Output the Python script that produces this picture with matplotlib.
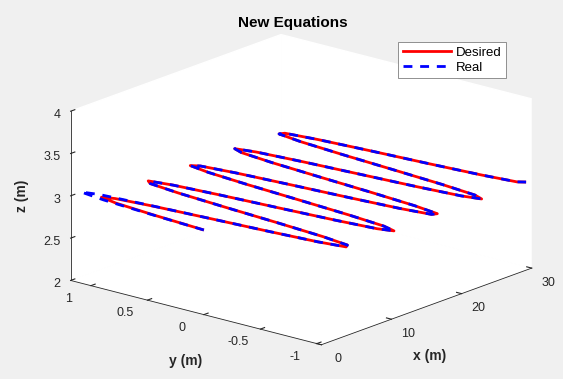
import matplotlib
matplotlib.use("Agg")
import matplotlib.pyplot as plt
from matplotlib.lines import Line2D
from matplotlib.transforms import ScaledTranslation

plt.rcParams['font.family'] = ['Liberation Sans', 'DejaVu Sans']
plt.rcParams['axes.unicode_minus'] = False

# ---- data ----
x_pos = [0.0, 0.5, 1.0, 1.5, 2.0, 2.5, 3.0, 3.5, 4.0, 4.5, 5.0, 5.5, 6.0, 6.5, 7.0, 7.5,
         8.0, 8.5, 9.0, 9.5, 10.0, 10.5, 11.0, 11.5, 12.0, 12.5, 13.0, 13.5, 14.0, 14.5,
         15.0, 15.5, 16.0, 16.5, 17.0, 17.5, 18.0, 18.5, 19.0, 19.5, 20.0, 20.5, 21.0,
         21.5, 22.0, 22.5, 23.0, 23.5, 24.0, 24.5, 25.0, 25.5, 26.0, 26.5, 27.0, 27.5,
         28.0, 28.5, 29.0, 29.5, 30.0]
y_desired = [0.00, 0.48, 0.84, 1.00, 0.91, 0.60, 0.14, -0.35, -0.76, -0.98, -0.96, -0.71,
             -0.28, 0.22, 0.66, 0.94, 0.99, 0.80, 0.41, -0.08, -0.54, -0.88, -1.00, -0.88,
             -0.54, -0.07, 0.42, 0.80, 0.99, 0.93, 0.65, 0.20, -0.29, -0.71, -0.96, -0.98,
             -0.75, -0.34, 0.15, 0.61, 0.91, 1.00, 0.84, 0.47, -0.01, -0.49, -0.85, -1.00,
             -0.91, -0.59, -0.13, 0.36, 0.76, 0.98, 0.96, 0.70, 0.27, -0.23, -0.66, -0.94,
             -0.99]
y_real = [0.00, 0.52, 0.95, 1.18, 1.05, 0.62, 0.14, -0.35, -0.76, -0.98, -0.96, -0.71,
          -0.28, 0.22, 0.66, 0.94, 0.99, 0.80, 0.41, -0.08, -0.54, -0.88, -1.00, -0.88,
          -0.54, -0.07, 0.42, 0.80, 0.99, 0.93, 0.65, 0.20, -0.29, -0.71, -0.96, -0.98,
          -0.75, -0.34, 0.15, 0.61, 0.91, 1.00, 0.84, 0.47, -0.01, -0.49, -0.85, -1.00,
          -0.91, -0.59, -0.13, 0.36, 0.76, 0.98, 0.96, 0.70, 0.27, -0.23, -0.66, -0.94,
          -0.99]
z_height = 3.0
z_desired = [z_height] * len(x_pos)
z_real = [z_height] * len(x_pos)

x_ticks = [0, 10, 20, 30]
y_ticks = [-1, -0.5, 0, 0.5, 1]
z_ticks = [2, 2.5, 3, 3.5, 4]
x_tick_labels = ['0', '10', '20', '30']
y_tick_labels = ['-1', '-0.5', '0', '0.5', '1']
z_tick_labels = ['2', '2.5', '3', '3.5', '4']
series_names = ['Desired', 'Real']

# ---- figure ----
BG = '#F0F0F0'
DARK = '#262626'
LW = 2.0
DASH = (3.2, 2.8)
fig = plt.figure(figsize=(5.63, 3.79), dpi=100, facecolor=BG)
# an enlarged axes rectangle (instead of a zoom factor) so nothing gets clipped
ax = fig.add_axes([-0.1116, -0.1526, 1.27, 1.27], projection='3d', proj_type='ortho')
ax.set_facecolor((0, 0, 0, 0))
ax.view_init(elev=17.8, azim=-140)
ax.set_box_aspect((1, 1, 0.543), zoom=1.0)
ax.computed_zorder = False

ax.plot(x_pos, y_desired, z_desired, color='#FF0000', lw=LW, solid_capstyle='butt', zorder=2)
ax.plot(x_pos, y_real, z_real, color='#0000FF', lw=LW, dashes=DASH, zorder=3)

ax.set_xlim(0, 30, view_margin=0)
ax.set_ylim(-1.04, 1.18, view_margin=0)
ax.set_zlim(2, 4, view_margin=0)

ax.set_xticks(x_ticks)
ax.set_xticklabels(x_tick_labels)
ax.set_yticks(y_ticks)
ax.set_yticklabels(y_tick_labels)
ax.set_zticks(z_ticks)
ax.set_zticklabels(z_tick_labels, ha='right')
ax.grid(False)

for axis in (ax.xaxis, ax.yaxis, ax.zaxis):
    axis.set_pane_color((1, 1, 1, 1))
    axis.pane.set_edgecolor('white')
    axis.line.set_color(DARK)
    axis.line.set_linewidth(0.6)
    axis._axinfo['tick']['inward_factor'] = 0.0
    axis._axinfo['tick']['outward_factor'] = 0.25
    axis._axinfo['tick']['color'] = DARK
ax.tick_params(axis='both', labelsize=9, colors=DARK, pad=-4.5)


def nudge_tick_labels(axis, dx_px, dy_px):
    """Shift tick labels of a 3D axis by a fixed screen offset (pixels)."""
    original = axis.get_major_ticks
    offset = ScaledTranslation(dx_px / fig.dpi, dy_px / fig.dpi, fig.dpi_scale_trans)

    def get_major_ticks(numticks=None):
        ticks = original(numticks)
        for t in ticks:
            t.label1.set_transform(ax.transData + offset)
        return ticks
    axis.get_major_ticks = get_major_ticks


nudge_tick_labels(ax.xaxis, 12, -4)
nudge_tick_labels(ax.yaxis, -18, -2.5)
nudge_tick_labels(ax.zaxis, -1, 2.5)

# axis labels (MATLAB keeps them horizontal)
fig.text(430 / 563, 1 - 356 / 379, 'x (m)', ha='center', va='center', fontsize=10,
         fontweight='bold', color=DARK)
fig.text(186 / 563, 1 - 361 / 379, 'y (m)', ha='center', va='center', fontsize=10,
         fontweight='bold', color=DARK)
fig.text(22 / 563, 1 - 196 / 379, 'z (m)', ha='center', va='center', fontsize=10,
         fontweight='bold', color=DARK, rotation=90)

fig.text(0.52, 0.94, 'New Equations', ha='center', va='center', fontsize=11,
         fontweight='bold', color='black')

handles = [Line2D([], [], color='#FF0000', lw=LW),
           Line2D([], [], color='#0000FF', lw=LW, dashes=DASH)]
leg = fig.legend(handles, series_names, loc='upper left',
                 bbox_to_anchor=(398 / 563, 1 - 42 / 379), fontsize=9.5,
                 fancybox=False, framealpha=1, edgecolor='#7F7F7F',
                 handlelength=3.7, handletextpad=0.3, borderpad=0.35,
                 labelspacing=0.2, borderaxespad=0)
leg.get_frame().set_linewidth(0.6)

fig.savefig('out.png', dpi=100, facecolor=BG)
